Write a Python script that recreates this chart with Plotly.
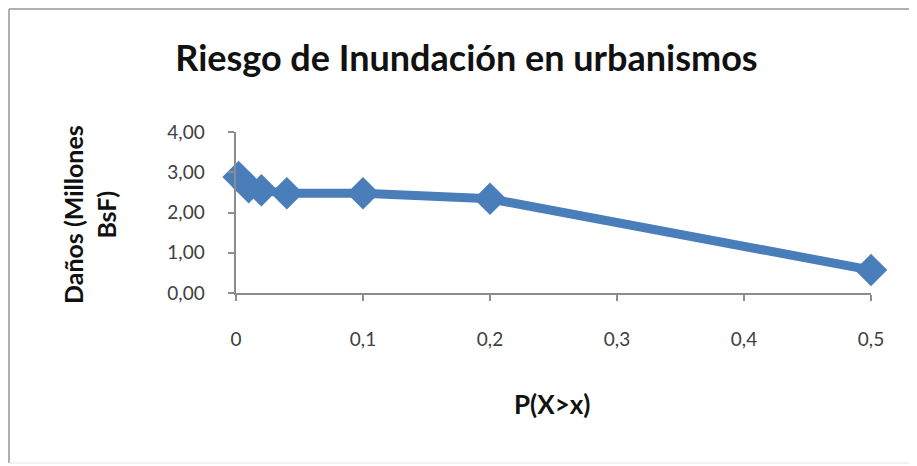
import plotly.graph_objects as go

prob = [0.002, 0.01, 0.02, 0.04, 0.1, 0.2, 0.5]
danos = [2.88, 2.63, 2.55, 2.48, 2.48, 2.34, 0.57]
x_ticks = [0, 0.1, 0.2, 0.3, 0.4, 0.5]
x_labels = ["0", "0,1", "0,2", "0,3", "0,4", "0,5"]
y_ticks = [0, 1, 2, 3, 4]
y_labels = ["0,00", "1,00", "2,00", "3,00", "4,00"]

blue = "#4a7ebb"
fnt = "Lato, Open Sans, sans-serif"
pad = "\u00a0" * 4

# page body adds an 8px offset; plot area target on screen: x 236-871, y 132-293
OFF = 8
L, R, T, B = 236 - OFF, 917 - (871 - OFF), 132 - OFF, 466 - (293 - OFF)
PW, PH = 635, 161

fig = go.Figure()
fig.add_trace(go.Scatter(
    x=prob, y=danos, mode="lines+markers",
    line=dict(color=blue, width=9),
    marker=dict(symbol="diamond", size=25, color=blue),
    showlegend=False, cliponaxis=False,
))

fig.update_layout(
    width=917, height=466,
    margin=dict(l=L, r=R, t=T, b=B, autoexpand=False),
    paper_bgcolor="white", plot_bgcolor="white",
    font=dict(family=fnt, color="#404040", size=19),
    title=dict(text="<b>Riesgo de Inundación en urbanismos</b>",
               x=0.5, xanchor="center", y=1 - (58 - OFF) / 466, yanchor="middle",
               font=dict(size=36, color="#111111", family=fnt)),
    xaxis=dict(range=[0, 0.5], tickvals=x_ticks, ticktext=x_labels,
               showgrid=False, zeroline=False, showline=True,
               linecolor="#8c8c8c", linewidth=2, ticks="outside",
               tickcolor="#8c8c8c", ticklen=6, tickwidth=2,
               ticklabelstandoff=22),
    yaxis=dict(range=[0, 4], tickvals=y_ticks,
               ticktext=[t + pad for t in y_labels],
               showgrid=False, zeroline=False, showline=True,
               linecolor="#8c8c8c", linewidth=2, ticks="outside",
               tickcolor="#8c8c8c", ticklen=6, tickwidth=2),
    annotations=[
        dict(text="<b>P(X>x)</b>", xref="paper", yref="paper",
             x=(552 - 236) / PW, y=-(404 - 293) / PH,
             xanchor="center", yanchor="middle", showarrow=False,
             font=dict(size=26, color="#111111", family=fnt)),
        dict(text="<b>Daños (Millones<br>BsF)</b>", xref="paper", yref="paper",
             x=-(236 - 89) / PW, y=(293 - 215) / PH,
             xanchor="center", yanchor="middle", showarrow=False,
             textangle=-90,
             font=dict(size=25, color="#111111", family=fnt)),
    ],
    shapes=[
        dict(type="line", xref="paper", yref="paper",
             x0=-(236 - 9) / PW, x1=(917 + OFF - 236) / PW,
             y0=1 + (132 - 9) / PH, y1=1 + (132 - 9) / PH,
             line=dict(color="#b0b0b0", width=2)),
        dict(type="line", xref="paper", yref="paper",
             x0=-(236 - 9) / PW, x1=-(236 - 9) / PW,
             y0=1 + (132 - 9) / PH, y1=-(463 - 293) / PH,
             line=dict(color="#b0b0b0", width=2)),
        dict(type="line", xref="paper", yref="paper",
             x0=-(236 - 9) / PW, x1=(917 + OFF - 236) / PW,
             y0=-(463 - 293) / PH, y1=-(463 - 293) / PH,
             line=dict(color="#e4e4e4", width=1)),
    ],
)

fig.write_html("out.html")
